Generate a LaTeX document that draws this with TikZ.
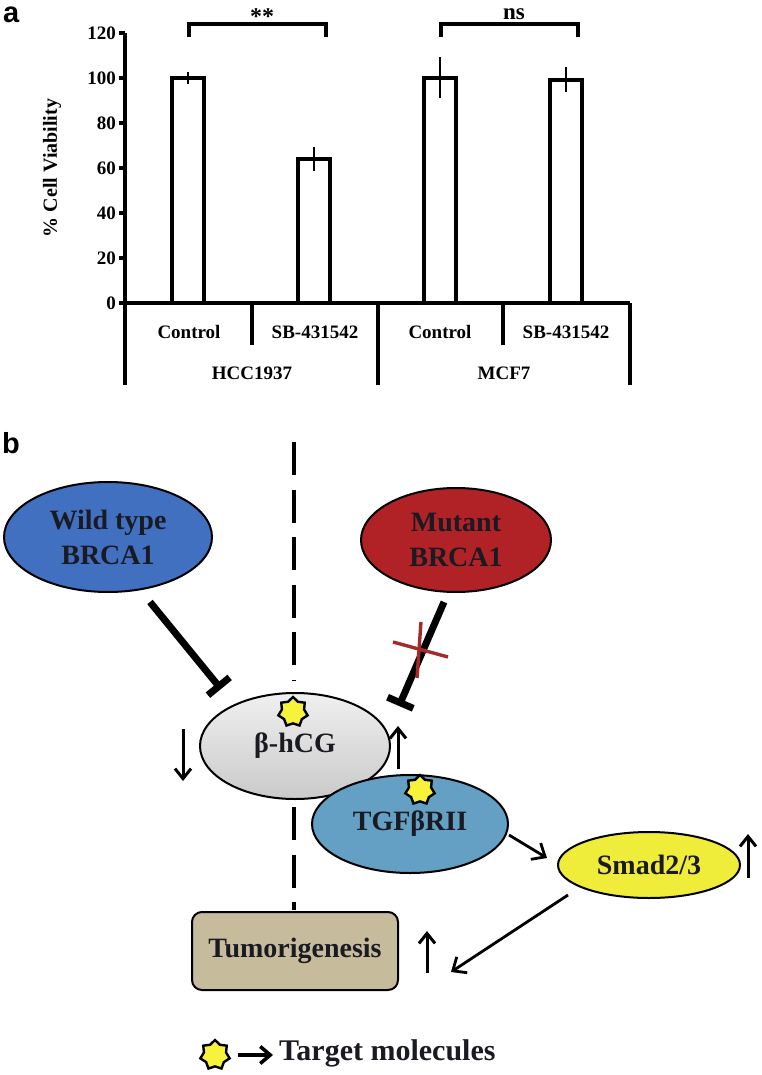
\documentclass[tikz,border=0pt]{standalone}
\usepackage{fontspec}
\setmainfont{Liberation Serif}
\newfontfamily\lblfont{Liberation Sans}
\usetikzlibrary{shapes.geometric,arrows.meta}
\definecolor{wildblue}{HTML}{4170C0}
\definecolor{mutred}{HTML}{B02226}
\definecolor{tgfblue}{HTML}{64A0C3}
\definecolor{smadY}{HTML}{F0EC3A}
\definecolor{tanbox}{HTML}{C6BC9C}
\definecolor{starY}{HTML}{F7F33A}
\definecolor{crossred}{HTML}{A52B2B}
\definecolor{txtdark}{HTML}{1A1A22}
\begin{document}
\begin{tikzpicture}[x=1pt,y=-1pt,
  chartline/.style={line width=3.2pt},
  errline/.style={line width=2.4pt},
  ticklbl/.style={font=\fontsize{19}{21}\selectfont\bfseries, anchor=east, inner sep=0},
  catlbl/.style={font=\fontsize{19}{21}\selectfont\bfseries, inner sep=0},
  panel/.style={font=\lblfont\fontsize{29}{29}\selectfont\bfseries, inner sep=0, anchor=base west},
  oval/.style={ellipse, draw=black, line width=2pt, inner sep=0, align=center,
    font=\fontsize{28}{35}\selectfont\bfseries, text=txtdark},
  target/.style={star, star points=7, star point ratio=1.32, minimum size=30pt,
    inner sep=0, fill=starY, draw=black, line width=2.4pt},
  inhib/.style={line width=7pt, -{Bar[width=28pt]}},
  updown/.style={line width=3pt, -{Straight Barb[length=10pt,width=16pt]}},
  flow/.style={line width=2.8pt, -{Straight Barb[length=11pt,width=19pt]}},
  divider/.style={line width=3.5pt, dash pattern=on 33pt off 14.5pt}
]
\useasboundingbox (0,0) rectangle (762,1075);

% ---------------- panel a ----------------
\node[panel] (pa) at (3,23) {a};

\draw[chartline] (125,33) -- (125,385);
\draw[chartline] (125,303) -- (630,303);
\foreach \v/\yy in {0/303,20/258,40/213,60/168,80/123,100/78,120/33}{
  \draw[chartline] (119,\yy) -- (125,\yy);
  \node[ticklbl] at (116,\yy) {\v};
}
\node[rotate=90, font=\fontsize{20}{22}\selectfont\bfseries, inner sep=0] (ylab) at (52,168) {\% Cell Viability};

% bars
\draw[chartline] (172,303) -- (172,78) -- (204,78) -- (204,303);
\draw[chartline] (298,303) -- (298,159) -- (330,159) -- (330,303);
\draw[chartline] (424,303) -- (424,78) -- (456,78) -- (456,303);
\draw[chartline] (550,303) -- (550,80) -- (582,80) -- (582,303);
% error bars
\draw[errline] (188,72) -- (188,84);
\draw[errline] (314,147) -- (314,171);
\draw[errline] (440,57) -- (440,98);
\draw[errline] (566,67) -- (566,92);

% category dividers
\draw[chartline] (252,303) -- (252,345);
\draw[chartline] (378,303) -- (378,385);
\draw[chartline] (503,303) -- (503,345);
\draw[chartline] (630,303) -- (630,385);

\node[catlbl] (c1) at (189,332) {Control};
\node[catlbl] (c2) at (315,332) {SB-431542};
\node[catlbl] (c3) at (440,332) {Control};
\node[catlbl] (c4) at (566,332) {SB-431542};
\node[catlbl] (g1) at (252,373) {HCC1937};
\node[catlbl] (g2) at (504,373) {MCF7};

% significance brackets
\draw[chartline] (189,37) -- (189,24) -- (326,24) -- (326,37);
\draw[chartline] (441,37) -- (441,24) -- (578,24) -- (578,37);
\node[font=\fontsize{24}{24}\selectfont\bfseries, anchor=base, inner sep=0] (s1) at (262,24.5) {**};
\node[font=\fontsize{23}{23}\selectfont\bfseries, anchor=base, inner sep=0] (s2) at (514,20) {ns};

% ---------------- panel b ----------------
\node[panel] (pb) at (2,453) {b};

\draw[divider] (294,442) -- (294,681);
\draw[divider] (294,807) -- (294,910);

\node[oval, fill=wildblue, minimum width=208pt, minimum height=110pt] (wild) at (108,537) {Wild type\\BRCA1};
\node[oval, fill=mutred, minimum width=190pt, minimum height=104pt] (mut) at (456,540) {Mutant\\BRCA1};
\node[oval, top color=gray!12, bottom color=gray!42, minimum width=190pt, minimum height=106pt] (hcg) at (295,746) {\raisebox{-4pt}{β-hCG}};
\node[oval, fill=tgfblue, minimum width=196pt, minimum height=98pt] (tgf) at (410,824) {\raisebox{-3pt}{TGFβRII}};
\node[oval, fill=smadY, minimum width=182pt, minimum height=66pt] (smad) at (649,865) {Smad2/3};
\node[draw=black, line width=2pt, rounded corners=10pt, fill=tanbox, minimum width=206pt,
  minimum height=78pt, inner sep=0, font=\fontsize{28}{30}\selectfont\bfseries, text=txtdark] (tum) at (295,951) {Tumorigenesis};

\node[target] (st1) at (293,712) {};
\node[target] (st2) at (420,790) {};

% inhibition connectors
\coordinate (w1) at (150,602);
\coordinate (w2) at (221,689);
\draw[inhib] (w1) -- (w2);
\coordinate (m1) at (444,602);
\coordinate (m2) at (399,706);
\draw[inhib] (m1) -- (m2);
% red cross
\coordinate (x1) at (393,642);
\coordinate (x2) at (448,657);
\coordinate (x3) at (421,622);
\coordinate (x4) at (417,678);
\draw[crossred, line width=3.4pt] (x1) -- (x2);
\draw[crossred, line width=3.4pt] (x3) -- (x4);

% up/down indicators
\coordinate (d1) at (183,729); \coordinate (d2) at (183,781);
\draw[updown] (d1) -- (d2);
\coordinate (u1) at (398,769); \coordinate (u2) at (398,726);
\draw[updown] (u1) -- (u2);
\coordinate (u3) at (748,878); \coordinate (u4) at (748,834);
\draw[updown] (u3) -- (u4);
\coordinate (u5) at (427,973); \coordinate (u6) at (427,931);
\draw[updown] (u5) -- (u6);

% flow arrows
\coordinate (f1) at (509,835); \coordinate (f2) at (547,858);
\draw[flow] (f1) -- (f2);
\coordinate (f3) at (568,895); \coordinate (f4) at (451,972);
\draw[flow] (f3) -- (f4);

% legend
\node[target] (st3) at (215,1055) {};
\coordinate (l1) at (238,1055); \coordinate (l2) at (273,1055);
\draw[line width=3.6pt, -{Straight Barb[length=10pt,width=17pt]}] (l1) -- (l2);
\node[anchor=west, inner sep=0, font=\fontsize{30}{32}\selectfont\bfseries, text=txtdark] (leg) at (279,1053) {Target molecules};
\end{tikzpicture}
\end{document}
